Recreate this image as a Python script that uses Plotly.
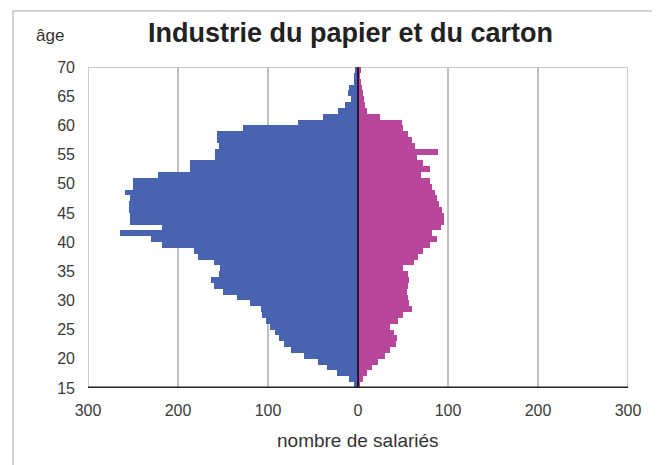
import plotly.graph_objects as go

ages = list(range(15, 70))
hommes = [4, 10, 23, 35, 45, 60, 75, 82, 88, 92,
          98, 102, 107, 108, 120, 135, 150, 160, 163, 155,
          153, 160, 178, 182, 218, 230, 265, 218, 253, 253,
          255, 255, 253, 259, 250, 250, 222, 187, 187, 159,
          159, 155, 157, 157, 128, 67, 39, 22, 14, 8,
          11, 10, 5, 4, 3]
femmes = [2, 5, 10, 15, 22, 30, 36, 42, 43, 40,
          36, 44, 50, 60, 57, 55, 54, 55, 57, 55,
          50, 62, 67, 72, 80, 88, 82, 92, 95, 95,
          93, 90, 88, 85, 82, 80, 70, 80, 72, 65,
          89, 63, 60, 56, 50, 49, 24, 10, 8, 7,
          6, 4, 3, 2, 3]
x_tickvals = [-300, -200, -100, 0, 100, 200, 300]
x_ticktext = ["300", "200", "100", "0", "100", "200", "300"]
y_tickvals = [15, 20, 25, 30, 35, 40, 45, 50, 55, 60, 65, 70]

ycent = [a + 0.5 for a in ages]

fig = go.Figure()
fig.add_trace(go.Bar(y=ycent, x=[-v for v in hommes], orientation="h", width=1,
                     marker=dict(color="#4864b0", line=dict(width=0)), name="hommes"))
fig.add_trace(go.Bar(y=ycent, x=femmes, orientation="h", width=1,
                     marker=dict(color="#b8479b", line=dict(width=0)), name="femmes"))

font = "Liberation Sans, Arial, sans-serif"
# page body has an 8px offset: plot area spans x 88..628, y 67..388 on screen
OX, OY = 8, 8
L, T = 88 - OX, 67 - OY
PW, PH = 540, 321
W, H = 652, 457


def px(x):
    return (x - 88) / PW


def py(y):
    return (388 - y) / PH


fig.update_layout(
    width=W, height=H,
    margin=dict(l=L, r=W - L - PW, t=T, b=H - T - PH, autoexpand=False),
    paper_bgcolor="white", plot_bgcolor="white",
    barmode="overlay", bargap=0, showlegend=False,
    font=dict(family=font, size=16, color="#3a3a3a"),
    xaxis=dict(range=[-300, 300], tickvals=x_tickvals, ticktext=x_ticktext,
               showgrid=True, gridcolor="#bfbfbf", gridwidth=1.5,
               zeroline=False, showline=False, ticks="", ticklabelstandoff=11,
               tickfont=dict(size=16, color="#3a3a3a")),
    yaxis=dict(range=[15, 70], tickvals=y_tickvals, showgrid=False,
               zeroline=False, showline=False, ticks="", ticklabelstandoff=12,
               tickfont=dict(size=16, color="#3a3a3a")),
    annotations=[
        dict(text="<b>Industrie du papier et du carton</b>", xref="paper", yref="paper",
             x=px(350), y=py(33), xanchor="center", yanchor="middle",
             showarrow=False, font=dict(size=27, color="#222222", family=font)),
        dict(text="âge", xref="paper", yref="paper",
             x=px(50), y=py(35), xanchor="center", yanchor="middle",
             showarrow=False, font=dict(size=17, color="#333333", family=font)),
        dict(text="nombre de salariés", xref="paper", yref="paper",
             x=px(358), y=py(440), xanchor="center", yanchor="middle",
             showarrow=False, font=dict(size=19, color="#333333", family=font)),
    ],
    shapes=[
        dict(type="rect", xref="paper", yref="paper",
             x0=px(13), x1=px(668), y0=py(472), y1=py(11),
             line=dict(color="#c8c8c8", width=1.5), layer="below"),
        dict(type="rect", xref="x", yref="y", x0=-300, x1=300, y0=15, y1=70,
             line=dict(color="#bfbfbf", width=1.5), layer="below"),
        dict(type="line", xref="x", yref="y", x0=0, x1=0, y0=15, y1=70,
             line=dict(color="#2a1630", width=2), layer="above"),
        dict(type="line", xref="x", yref="y", x0=-300, x1=300, y0=15, y1=15,
             line=dict(color="#222222", width=3), layer="above"),
    ],
)

fig.write_html("out.html")
